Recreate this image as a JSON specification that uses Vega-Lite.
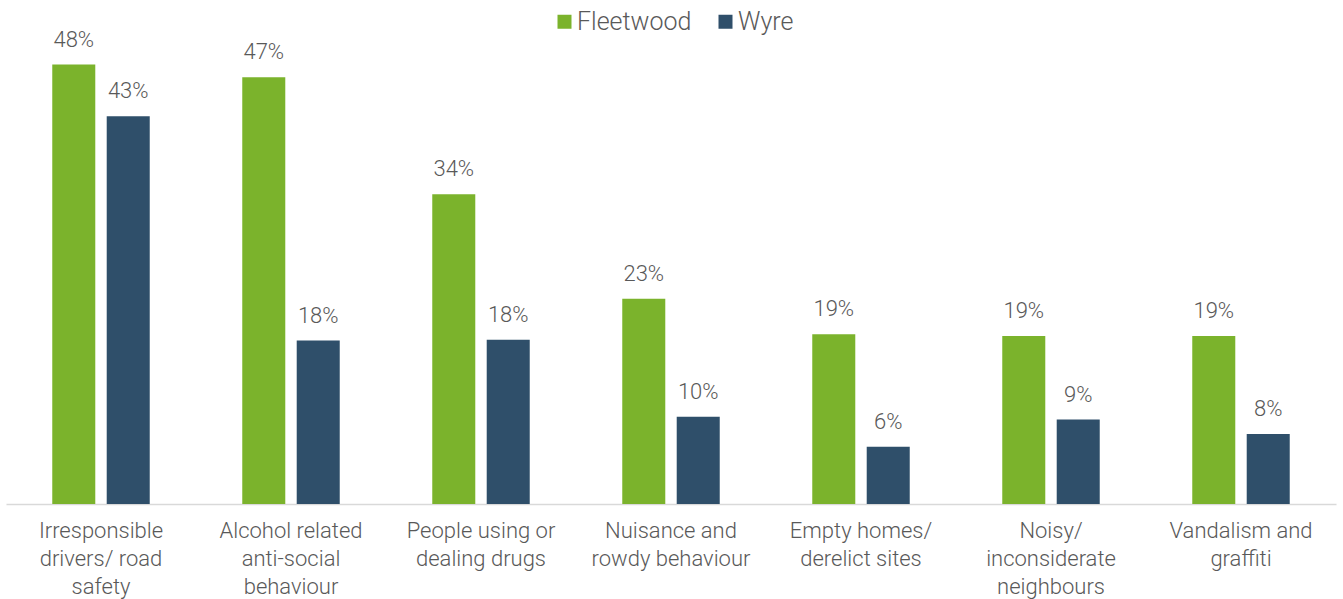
{
  "$schema": "https://vega.github.io/schema/vega-lite/v6.json",
  "width": 1330,
  "height": 454,
  "autosize": "none",
  "padding": {"left": 6, "top": 50, "right": 7, "bottom": 95},
  "background": "white",
  "config": {
    "view": {"stroke": null},
    "font": "Roboto",
    "text": {"font": "Roboto"}
  },
  "data": {
    "values": [
      {"category": "Irresponsible drivers/ road safety", "area": "Fleetwood", "value": 0.484},
      {"category": "Irresponsible drivers/ road safety", "area": "Wyre", "value": 0.427},
      {"category": "Alcohol related anti-social behaviour", "area": "Fleetwood", "value": 0.47},
      {"category": "Alcohol related anti-social behaviour", "area": "Wyre", "value": 0.18},
      {"category": "People using or dealing drugs", "area": "Fleetwood", "value": 0.341},
      {"category": "People using or dealing drugs", "area": "Wyre", "value": 0.181},
      {"category": "Nuisance and rowdy behaviour", "area": "Fleetwood", "value": 0.226},
      {"category": "Nuisance and rowdy behaviour", "area": "Wyre", "value": 0.096},
      {"category": "Empty homes/ derelict sites", "area": "Fleetwood", "value": 0.187},
      {"category": "Empty homes/ derelict sites", "area": "Wyre", "value": 0.063},
      {"category": "Noisy/ inconsiderate neighbours", "area": "Fleetwood", "value": 0.185},
      {"category": "Noisy/ inconsiderate neighbours", "area": "Wyre", "value": 0.093},
      {"category": "Vandalism and graffiti", "area": "Fleetwood", "value": 0.185},
      {"category": "Vandalism and graffiti", "area": "Wyre", "value": 0.077}
    ]
  },
  "encoding": {
    "x": {
      "field": "category",
      "type": "nominal",
      "sort": null,
      "scale": {"paddingInner": 0.487, "paddingOuter": 0.2435},
      "axis": {
        "title": null,
        "labelAngle": 0,
        "ticks": false,
        "domainColor": "#d9d9d9",
        "domainWidth": 1.5,
        "labelFont": "Roboto",
        "labelFontSize": 22,
        "labelFontWeight": 300,
        "labelColor": "#595959",
        "labelLineHeight": 28,
        "labelPadding": 16,
        "labelLimit": 300,
        "labelExpr": "{'Irresponsible drivers/ road safety': ['Irresponsible', 'drivers/ road', 'safety'], 'Alcohol related anti-social behaviour': ['Alcohol related', 'anti-social', 'behaviour'], 'People using or dealing drugs': ['People using or', 'dealing drugs'], 'Nuisance and rowdy behaviour': ['Nuisance and', 'rowdy behaviour'], 'Empty homes/ derelict sites': ['Empty homes/', 'derelict sites'], 'Noisy/ inconsiderate neighbours': ['Noisy/', 'inconsiderate', 'neighbours'], 'Vandalism and graffiti': ['Vandalism and', 'graffiti']}[datum.label]"
      }
    },
    "xOffset": {
      "field": "area",
      "type": "nominal",
      "scale": {"paddingInner": 0.21, "paddingOuter": 0}
    },
    "y": {
      "field": "value",
      "type": "quantitative",
      "scale": {"domain": [0, 0.5]},
      "axis": null
    }
  },
  "layer": [
    {
      "mark": {"type": "bar"},
      "encoding": {
        "color": {
          "field": "area",
          "type": "nominal",
          "scale": {"domain": ["Fleetwood", "Wyre"], "range": ["#7bb32c", "#2f4f6a"]},
          "legend": {
            "title": null,
            "orient": "none",
            "direction": "horizontal",
            "legendX": 546,
            "legendY": -41,
            "symbolType": "square",
            "symbolSize": 196,
            "symbolStrokeWidth": 0,
            "labelFont": "Roboto",
            "labelFontSize": 25,
            "labelFontWeight": 300,
            "labelColor": "#595959",
            "columnPadding": 21,
            "labelOffset": 0
          }
        }
      }
    },
    {
      "mark": {"type": "text", "baseline": "alphabetic", "dy": -18, "fontSize": 22, "fontWeight": 300, "color": "#595959", "font": "Roboto"},
      "encoding": {
        "text": {"field": "value", "type": "quantitative", "format": ".0%"}
      }
    }
  ]
}
